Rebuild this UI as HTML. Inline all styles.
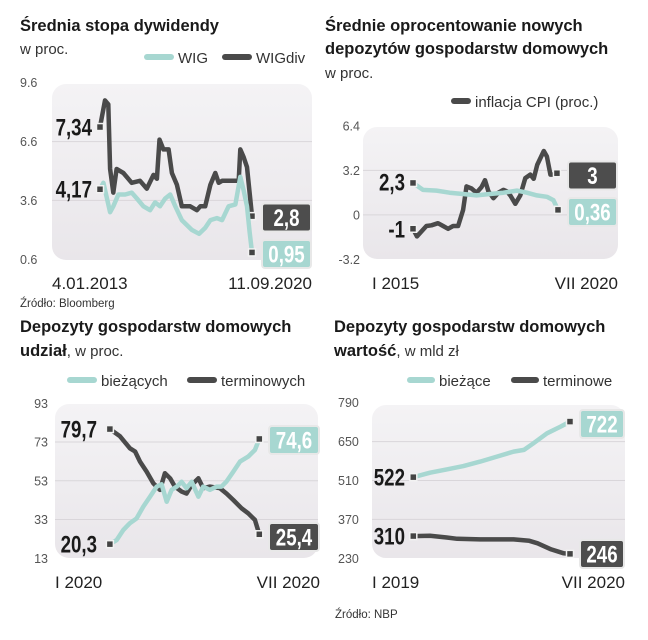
<!DOCTYPE html>
<html><head><meta charset="utf-8"><style>
html,body{margin:0;padding:0;background:#fff;width:648px;height:640px;overflow:hidden}
svg{display:block;font-family:"Liberation Sans",sans-serif}
.t{font-weight:bold;font-size:16.5px;fill:#1a1a1a}
.s{font-size:15px;fill:#333}
.tick{font-size:12.5px;fill:#555}
.xl{font-size:17px;fill:#222}
.src{font-size:11.5px;fill:#333}
.vl{font-family:"Liberation Sans",sans-serif;font-weight:bold;font-size:24px}
</style></head><body>
<svg id="c" width="648" height="640" viewBox="0 0 648 640">
<defs><linearGradient id="bg" x1="0" y1="0" x2="0" y2="1"><stop offset="0" stop-color="#f4f3f5"/><stop offset="1" stop-color="#e9e6ea"/></linearGradient></defs>
<text class="t" x="20" y="31">Średnia stopa dywidendy</text>
<text class="s" x="20" y="54">w proc.</text>
<text class="t" x="325" y="31">Średnie oprocentowanie nowych</text>
<text class="t" x="325" y="54">depozytów gospodarstw domowych</text>
<text class="s" x="325" y="78">w proc.</text>
<text class="t" x="20" y="332">Depozyty gospodarstw domowych</text>
<text class="s" x="20" y="356"><tspan font-weight="bold" fill="#1a1a1a" font-size="16.5">udział</tspan>, w proc.</text>
<text class="t" x="334" y="332">Depozyty gospodarstw domowych</text>
<text class="s" x="334" y="356"><tspan font-weight="bold" fill="#1a1a1a" font-size="16.5">wartość</tspan>, w mld zł</text>
<text class="src" x="20" y="307">Źródło: Bloomberg</text>
<text class="src" x="335" y="618">Źródło: NBP</text>
<g id="g"></g>
</svg>
<script>
// Panel 1: dividend yield (years)
const p1Years=[2013.01,2013.26,2013.43,2013.52,2013.68,2013.85,2014.19,2014.61,2015.03,2015.37,2015.71,2015.88,2016.01,2016.21,2016.47,2016.64,2016.89,2017.14,2017.56,2017.90,2018.07,2018.32,2018.58,2018.83,2019.00,2019.17,2019.42,2019.76,2020.01,2020.09,2020.26,2020.43,2020.56,2020.68];
const wigdiv=[7.34,8.7,8.5,5.2,4.0,5.2,5.0,4.5,4.6,4.2,4.9,4.7,6.7,6.2,6.2,5.0,4.4,3.3,3.3,3.1,3.3,3.3,4.4,5.0,4.5,4.6,4.6,4.6,4.6,6.2,5.8,5.3,4.0,2.8];
const p1YearsWig=[2013.01,2013.18,2013.52,2013.68,2013.94,2014.28,2014.61,2014.87,2015.20,2015.54,2015.79,2016.04,2016.30,2016.55,2016.81,2017.14,2017.64,2018.01,2018.32,2018.58,2018.91,2019.17,2019.50,2019.84,2020.09,2020.26,2020.43,2020.56,2020.68];
const wig=[4.17,4.5,3.0,3.3,3.9,3.9,4.0,3.7,3.3,3.1,3.5,3.3,3.7,3.9,3.3,2.6,2.1,1.9,2.2,2.6,2.7,2.6,3.3,3.4,4.8,4.1,3.3,2.0,0.95];
const p1Ticks=[9.6,6.6,3.6,0.6];
// Panel 2: deposit rates vs CPI
const p2YearsCpi=[2015.00,2015.15,2015.32,2015.51,2015.70,2015.95,2016.14,2016.33,2016.52,2016.71,2016.90,2017.03,2017.22,2017.41,2017.60,2017.73,2017.86,2018.05,2018.24,2018.43,2018.56,2018.69,2018.88,2019.07,2019.26,2019.45,2019.58,2019.71,2019.96,2020.08,2020.21,2020.33,2020.46];
const cpi=[-1.0,-1.55,-1.2,-0.8,-0.75,-0.6,-0.8,-1.0,-0.8,-0.8,0.36,2.05,1.9,1.6,2.0,2.5,1.7,1.2,1.6,1.8,1.7,1.4,0.8,1.4,2.65,2.9,2.6,3.6,4.6,4.2,2.9,2.9,3.0];
const p2YearsDep=[2015.00,2015.38,2015.89,2016.39,2016.90,2017.41,2017.92,2018.43,2018.94,2019.32,2019.70,2020.08,2020.33,2020.50];
const deposit=[2.3,1.8,1.75,1.6,1.5,1.4,1.5,1.6,1.75,1.6,1.4,1.3,1.05,0.36];
const p2Ticks=[6.4,3.2,0,-3.2];
// Panel 3: share (months from I 2020)
const p3Months=[0.19,0.58,0.97,1.17,1.36,1.62,1.88,2.14,2.33,2.53,2.72,2.98,3.17,3.37,3.63,3.82,4.08,4.47,4.73,4.99,5.31,5.57,5.83,6.0];
const terminowe3=[79.7,76,69.8,68.1,62.9,57.7,51.7,48.3,56.9,54.3,50,47.4,46.4,50.9,54.3,49.2,50,49.2,46.4,43.1,38.8,36.2,32.8,25.4];
const p3MonthsB=[0.19,0.45,0.71,0.97,1.23,1.49,1.75,2.01,2.20,2.40,2.59,2.79,2.98,3.17,3.37,3.63,3.82,4.08,4.34,4.53,4.73,4.99,5.25,5.57,5.83,6.0];
const biezace3=[20.3,22.4,27.6,31.1,33.6,39.7,44.8,50,51.2,42.2,48.3,50,52.5,49.2,52.5,44.8,50,48.3,50,50,52.7,57.7,62.9,65.5,68.9,74.6];
const p3Ticks=[93,73,53,33,13];
// Panel 4: value (months from I 2019)
const p4Months=[0,1.6,3.2,4.8,6.4,8.0,9.6,10.6,11.5,12.8,14.1,15.0];
const biezace4=[522,538,550,562,578,596,614,620,644,680,704,722];
const p4MonthsT=[0,1.6,3.2,4.2,6.4,9.6,11.1,11.9,13.2,14.4,15.0];
const terminowe4=[310,311,305,300,298,298,293,284,262,248,246];
const p4Ticks=[790,650,510,370,230];

const NS='http://www.w3.org/2000/svg',G=document.getElementById('g');
const TEAL='#a7d7d1',DARK='#4a4a4a';
function el(t,a,p){const e=document.createElementNS(NS,t);for(const k in a)e.setAttribute(k,a[k]);(p||G).appendChild(e);return e;}
function lin(d0,d1,r0,r1){return v=>r0+(v-d0)/(d1-d0)*(r1-r0);}
function panel(o){
  const bg=el('rect',{x:o.bx0,y:o.by0,width:o.bx1-o.bx0,height:o.by1-o.by0,rx:14,fill:'url(#bg)'});
  
  
  o.ticks.forEach((t,i)=>{
    const y=o.y(t);
    if(i>0&&i<o.ticks.length-1){const gl=el('line',{x1:o.bx0,x2:o.bx1,y1:y,y2:y,stroke:'#d9d6da','stroke-width':1});
      
      }
    const tx=el('text',{x:o.tx,y:y+4.5,class:'tick','text-anchor':o.ta||'start'});tx.textContent=o.fmt?o.fmt(t):String(t);
    
    
  });
}
function series(xs,vs,X,Y,color,name){
  const d=xs.map((x,i)=>(i?'L':'M')+X(x).toFixed(1)+','+Y(vs[i]).toFixed(1)).join('');
  const p=el('path',{d:d,fill:'none',stroke:color,'stroke-width':4.5,'stroke-linejoin':'round','stroke-linecap':'round'});
  
  
  [0,xs.length-1].forEach(i=>{
    const m=el('rect',{x:X(xs[i])-3.5,y:Y(vs[i])-3.5,width:7,height:7,fill:'#444',stroke:'#f2f2f2','stroke-width':1.5});
    
    
  });
}
function leftLabel(x,y,txt,name){const t=el('text',{x:0,y:0,class:'vl','text-anchor':'end',fill:'#1a1a1a',transform:'translate('+x+','+(y+8.5)+') scale(0.78,1)'});t.textContent=txt;
  
  }
function box(x0,x1,yc,txt,fill,name){
  const r=el('rect',{x:x0,y:yc-14,width:x1-x0,height:28,rx:3,fill:fill,stroke:'#e8e8e8','stroke-width':2});
  
  
  const t=el('text',{x:0,y:0,class:'vl','text-anchor':'middle',fill:'#fff',transform:'translate('+((x0+x1)/2)+','+(yc+8.5)+') scale(0.78,1)'});t.textContent=txt;
  
  
}
function fmtC(v){return String(v).replace('.',',');}
function legend(x,y,color,txt,name,w){
  const s=el('line',{x1:x,x2:x+(w||26),y1:y,y2:y,stroke:color,'stroke-width':6,'stroke-linecap':'round'});
  
  
  const t=el('text',{x:x+(w||26)+7,y:y+6,class:'s','font-size':'16'});t.textContent=txt;
  
  
}
function xlab(x,y,txt,anchor,name){const t=el('text',{x:x,y:y,class:'xl','text-anchor':anchor});t.textContent=txt;
  
  }

// Panel 1
{const X=lin(2013.01,2020.68,100,252),Y=lin(9.6,0.6,82.7,259.3);
 panel({name:'dividend',bx0:52,bx1:312,by0:84,by1:260,ticks:p1Ticks,y:Y,tx:20,fmt:v=>v.toFixed(1)});
 series(p1Years,wigdiv,X,Y,DARK,'wigdiv');
 series(p1YearsWig,wig,X,Y,TEAL,'wig');
 leftLabel(92,Y(wigdiv[0]),fmtC(wigdiv[0]),'wigdiv-start-label');
 leftLabel(92,Y(wig[0]),fmtC(wig[0]),'wig-start-label');
 box(262,311,217.5,fmtC(wigdiv[wigdiv.length-1]),'#4d4d4d','wigdiv-end-label');
 box(262,311,254,fmtC(wig[wig.length-1]),TEAL,'wig-end-label');
 legend(147,57,TEAL,'WIG','legend-wig',24);
 legend(225,57,DARK,'WIGdiv','legend-wigdiv',24);
 xlab(52,289,'4.01.2013','start','x-label-start');xlab(312,289,'11.09.2020','end','x-label-end');}
// Panel 2
{const X=lin(2015.0,2020.5,413,558),Y=lin(6.4,-3.2,126,259.3);
 panel({name:'rates',bx0:363,bx1:618,by0:127,by1:259,ticks:p2Ticks,y:Y,tx:360,ta:'end',fmt:v=>v.toFixed(1).replace('.0','')});
 series(p2YearsCpi,cpi,X,Y,DARK,'cpi');
 series(p2YearsDep,deposit,X,Y,TEAL,'deposit-rate');
 leftLabel(405,Y(deposit[0])-1,fmtC(deposit[0]),'deposit-start-label');
 leftLabel(405,Y(cpi[0]),fmtC(cpi[0]),'cpi-start-label');
 box(568,617,175.5,fmtC(cpi[cpi.length-1]),'#4d4d4d','cpi-end-label');
 box(568,617,212,fmtC(deposit[deposit.length-1]),TEAL,'deposit-end-label');
 legend(454,101,DARK,'inflacja CPI (proc.)','legend-cpi',14);
 xlab(372,289,'I 2015','start','x-label-start-2');xlab(618,289,'VII 2020','end','x-label-end-2');}
// Panel 3
{const X=lin(0,6,105,259.3),Y=lin(93,13,403.3,558.3);
 panel({name:'share',bx0:55,bx1:318,by0:404,by1:558,ticks:p3Ticks,y:Y,tx:48,ta:'end'});
 series(p3Months,terminowe3,X,Y,DARK,'terminowe-share');
 series(p3MonthsB,biezace3,X,Y,TEAL,'biezace-share');
 leftLabel(97,Y(terminowe3[0]),fmtC(terminowe3[0]),'terminowe-share-start-label');
 leftLabel(97,Y(biezace3[0]),fmtC(biezace3[0]),'biezace-share-start-label');
 box(269,319,440,fmtC(biezace3[biezace3.length-1]),TEAL,'biezace-share-end-label');
 box(269,319,537,fmtC(terminowe3[terminowe3.length-1]),'#4d4d4d','terminowe-share-end-label');
 legend(70,380,TEAL,'bieżących','legend-biezacych',24);
 legend(190,380,DARK,'terminowych','legend-terminowych',24);
 xlab(55,588,'I 2020','start','x-label-start-3');xlab(320,588,'VII 2020','end','x-label-end-3');}
// Panel 4
{const X=lin(0,15,413.3,570),Y=lin(790,230,402.7,558.3);
 panel({name:'value',bx0:372,bx1:625,by0:405,by1:558,ticks:p4Ticks,y:Y,tx:338});
 series(p4Months,biezace4,X,Y,TEAL,'biezace-value');
 series(p4MonthsT,terminowe4,X,Y,DARK,'terminowe-value');
 leftLabel(405,Y(biezace4[0]),String(biezace4[0]),'biezace-value-start-label');
 leftLabel(405,Y(terminowe4[0]),String(terminowe4[0]),'terminowe-value-start-label');
 box(580,624,424,String(biezace4[biezace4.length-1]),TEAL,'biezace-value-end-label');
 box(580,624,554,String(terminowe4[terminowe4.length-1]),'#4d4d4d','terminowe-value-end-label');
 legend(410,380,TEAL,'bieżące','legend-biezace',22);
 legend(514,380,DARK,'terminowe','legend-terminowe',22);
 xlab(372,588,'I 2019','start','x-label-start-4');xlab(625,588,'VII 2020','end','x-label-end-4');}
</script>
</body></html>
